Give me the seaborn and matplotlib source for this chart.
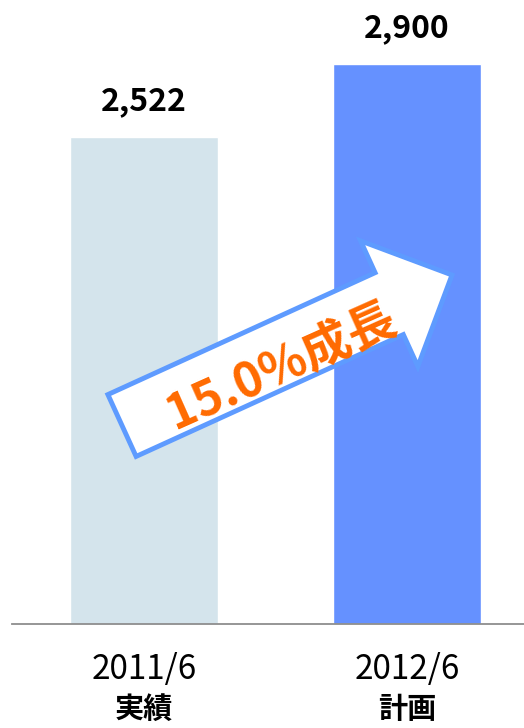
import matplotlib
matplotlib.use("Agg")
import matplotlib.pyplot as plt
import matplotlib.transforms as mtransforms
from matplotlib.patches import FancyArrow
import seaborn as sns

# data
periods = ["2011/6", "2012/6"]
kinds = ["実績", "計画"]
values = [2522, 2900]
growth_label = "15.0%成長"

bar_colors = ["#D4E4EC", "#6591FF"]
fonts = ["Noto Sans CJK JP", "DejaVu Sans"]

sns.set_style("white")
plt.rcParams["font.family"] = fonts

W, H = 524, 728
fig = plt.figure(figsize=(W / 100, H / 100), dpi=100)
ax = fig.add_axes([12 / W, 1 - 624 / H, 1 - 12 / W, 624 / H])

sns.barplot(x=periods, y=values, hue=periods, palette=bar_colors,
            width=0.563, saturation=1, legend=False, ax=ax)
ax.set_xlim(-0.502, 1.445)
ax.set_ylim(0, 3231)
ax.set_yticks([])
ax.set_xlabel("")
ax.set_ylabel("")

for side in ["top", "left", "right"]:
    ax.spines[side].set_visible(False)
ax.spines["bottom"].set_color("#8E8E8E")
ax.spines["bottom"].set_linewidth(1.3)

ax.tick_params(axis="x", length=0, pad=20, labelsize=24, labelcolor="black")

# value labels on top of bars
for cont in ax.containers:
    ax.bar_label(cont, labels=[f"{int(v):,}" for v in cont.datavalues],
                 padding=14, fontsize=23, fontweight="bold", color="black")

# second line under the period labels
for i, k in enumerate(kinds):
    ax.text(i, -(709 - 624) / 624, k, transform=ax.get_xaxis_transform(),
            ha="center", va="center", fontsize=21, fontweight="bold",
            color="black")

# growth arrow (pixel coords, origin bottom-left)
arrow = FancyArrow(122, H - 425.5, 330, 150.5, width=68,
                   head_width=138, head_length=69,
                   length_includes_head=True,
                   facecolor="white", edgecolor="#5E9BFF", linewidth=3.5,
                   transform=mtransforms.IdentityTransform(), zorder=5)
fig.add_artist(arrow)

fig.text(281 / W, 1 - 366 / H, growth_label, rotation=24,
         rotation_mode="anchor", ha="center", va="center",
         fontsize=35, fontweight="bold", color="#FF6A00", zorder=6)

fig.savefig("out.png", dpi=100)
